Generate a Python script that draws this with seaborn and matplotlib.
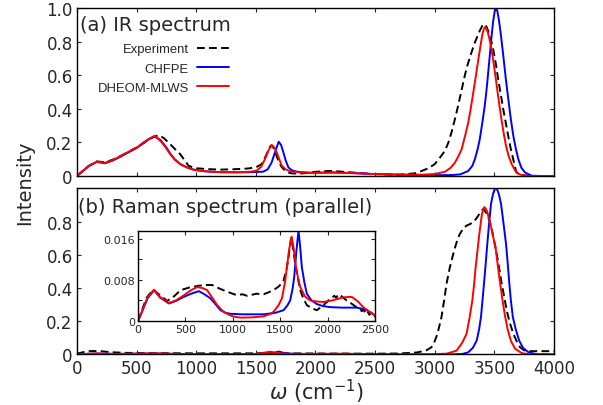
import matplotlib
matplotlib.use("Agg")
import numpy as np
import matplotlib.pyplot as plt
import seaborn as sns

# ---------------- (a) IR spectrum ----------------
ir_exp_w = [0, 50, 100, 167, 237, 300, 363, 430, 502, 560, 614, 660, 692, 730, 781,
            820, 865, 900, 935, 970, 1005, 1100, 1200, 1300, 1400, 1451, 1510, 1549,
            1585, 1614, 1632, 1650, 1669, 1689, 1715, 1745, 1775, 1801, 1850, 1899,
            1950, 2000, 2060, 2121, 2200, 2289, 2400, 2484, 2600, 2707, 2835, 2890,
            2946, 3001, 3030, 3060, 3086, 3115, 3141, 3170, 3197, 3225, 3253, 3275,
            3295, 3315, 3337, 3360, 3378, 3400, 3415, 3433, 3448, 3470, 3490, 3512,
            3532, 3553, 3574, 3595, 3616, 3637, 3658, 3673, 3685, 3705, 3730, 3800, 4000]
ir_exp = [0, 0.03, 0.06, 0.087, 0.082, 0.097, 0.118, 0.143, 0.17, 0.197, 0.222, 0.238,
          0.242, 0.225, 0.19, 0.162, 0.131, 0.097, 0.062, 0.052, 0.046, 0.041, 0.038,
          0.04, 0.043, 0.046, 0.055, 0.071, 0.12, 0.17, 0.183, 0.165, 0.13, 0.091,
          0.055, 0.032, 0.02, 0.016, 0.014, 0.016, 0.02, 0.025, 0.028, 0.03, 0.027,
          0.022, 0.016, 0.012, 0.009, 0.008, 0.016, 0.03, 0.046, 0.071, 0.097, 0.125,
          0.15, 0.2, 0.26, 0.34, 0.42, 0.51, 0.6, 0.66, 0.706, 0.75, 0.795, 0.835,
          0.865, 0.895, 0.905, 0.89, 0.865, 0.815, 0.756, 0.67, 0.577, 0.49, 0.4,
          0.32, 0.24, 0.165, 0.101, 0.055, 0.022, 0.01, 0.006, 0.0, 0.0]

ir_chfpe_w = [0, 50, 100, 167, 237, 300, 363, 430, 502, 550, 600, 650, 700, 750, 781,
              820, 865, 920, 977, 1050, 1116, 1200, 1340, 1450, 1507, 1563, 1600, 1633,
              1665, 1692, 1712, 1731, 1752, 1773, 1800, 1843, 1900, 1954, 2050, 2150,
              2289, 2484, 2707, 2900, 3050, 3150, 3215, 3281, 3315, 3337, 3360, 3378,
              3400, 3420, 3437, 3454, 3475, 3490, 3503, 3514, 3526, 3540, 3555, 3575,
              3596, 3617, 3638, 3659, 3681, 3701, 3726, 3757, 3813, 3900, 4000]
ir_chfpe = [0, 0.03, 0.06, 0.084, 0.076, 0.092, 0.114, 0.14, 0.167, 0.192, 0.217,
            0.236, 0.215, 0.17, 0.135, 0.1, 0.072, 0.052, 0.038, 0.03, 0.026, 0.023,
            0.022, 0.023, 0.024, 0.026, 0.04, 0.081, 0.15, 0.204, 0.185, 0.141, 0.09,
            0.052, 0.035, 0.026, 0.022, 0.02, 0.02, 0.021, 0.018, 0.012, 0.008, 0.006,
            0.005, 0.006, 0.01, 0.03, 0.06, 0.1, 0.16, 0.22, 0.32, 0.42, 0.53, 0.657,
            0.82, 0.92, 0.98, 1.0, 0.98, 0.92, 0.84, 0.716, 0.58, 0.458, 0.34, 0.24,
            0.16, 0.101, 0.05, 0.021, 0.002, 0.0, 0.0]

ir_dheom_w = [0, 50, 100, 167, 237, 300, 363, 430, 502, 550, 600, 656, 712, 750, 781,
              820, 865, 920, 977, 1050, 1116, 1200, 1340, 1450, 1507, 1545, 1577, 1605,
              1633, 1655, 1675, 1697, 1717, 1750, 1787, 1870, 1954, 2050, 2150, 2289,
              2484, 2707, 2900, 3000, 3086, 3135, 3170, 3200, 3226, 3255, 3282, 3304,
              3324, 3346, 3367, 3385, 3400, 3412, 3421, 3432, 3445, 3458, 3475, 3493,
              3514, 3535, 3556, 3577, 3598, 3619, 3646, 3675, 3705, 3731, 3785, 4000]
ir_dheom = [0, 0.03, 0.06, 0.085, 0.079, 0.095, 0.117, 0.143, 0.17, 0.195, 0.22,
            0.24, 0.2, 0.165, 0.131, 0.098, 0.071, 0.052, 0.038, 0.03, 0.026, 0.023,
            0.022, 0.025, 0.032, 0.055, 0.101, 0.15, 0.185, 0.17, 0.141, 0.1, 0.062,
            0.04, 0.028, 0.022, 0.018, 0.02, 0.021, 0.018, 0.012, 0.008, 0.008, 0.012,
            0.025, 0.05, 0.08, 0.12, 0.16, 0.24, 0.32, 0.41, 0.5, 0.6, 0.7, 0.78, 0.845,
            0.875, 0.885, 0.878, 0.855, 0.82, 0.76, 0.677, 0.57, 0.458, 0.355, 0.26,
            0.18, 0.121, 0.07, 0.032, 0.012, 0.006, 0.0, 0.0]

# ---------------- (b) Raman spectrum, low frequency (inset scale) ----------------
ra_exp_lo_w = [0, 40, 90, 161, 220, 309, 380, 449, 540, 624, 700, 782, 860, 940, 1045,
               1100, 1150, 1200, 1250, 1325, 1380, 1430, 1490, 1535, 1565, 1588, 1605,
               1616, 1635, 1658, 1685, 1711, 1745, 1781, 1830, 1886, 1950, 2000, 2026,
               2050, 2070, 2090, 2114, 2140, 2160, 2201, 2250, 2306, 2340, 2360, 2380,
               2400, 2420, 2440, 2460, 2480, 2499]
ra_exp_lo = [0, 0.002, 0.0045, 0.0061, 0.0052, 0.0039, 0.0048, 0.006, 0.0065, 0.0068,
             0.007, 0.007, 0.0063, 0.0057, 0.005, 0.0052, 0.0049, 0.0051, 0.0053, 0.0052,
             0.0056, 0.006, 0.0068, 0.0079, 0.0098, 0.0125, 0.015, 0.0161, 0.0142, 0.0112,
             0.0085, 0.006, 0.0043, 0.0031, 0.0025, 0.0021, 0.003, 0.0038, 0.0044,
             0.0046, 0.0049, 0.0045, 0.0052, 0.0049, 0.0046, 0.004, 0.0034, 0.0027,
             0.0025, 0.0019, 0.0022, 0.0015, 0.0019, 0.0012, 0.0016, 0.0008, 0.0009]

ra_chfpe_lo_w = [0, 50, 100, 169, 230, 326, 400, 484, 560, 642, 700, 764, 820, 870, 920,
                 975, 1100, 1325, 1450, 1535, 1575, 1605, 1630, 1648, 1670, 1693, 1710,
                 1728, 1755, 1781, 1830, 1886, 1950, 2026, 2150, 2306, 2360, 2412, 2460,
                 2499]
ra_chfpe_lo = [0, 0.0022, 0.0044, 0.006, 0.0046, 0.0034, 0.0039, 0.0047, 0.0053,
               0.0058, 0.0052, 0.0044, 0.0032, 0.0021, 0.0016, 0.0014, 0.0013, 0.0013,
               0.0016, 0.0021, 0.003, 0.004, 0.0062, 0.0086, 0.0135, 0.0176, 0.0145,
               0.0105, 0.0075, 0.0053, 0.004, 0.0033, 0.0029, 0.0027, 0.0026, 0.0026,
               0.0024, 0.0021, 0.0016, 0.0011]

ra_dheom_lo_w = [0, 50, 100, 169, 230, 326, 400, 484, 560, 624, 680, 729, 780, 835, 890,
                 940, 1000, 1080, 1200, 1325, 1400, 1430, 1480, 1518, 1550, 1571, 1595,
                 1620, 1643, 1666, 1690, 1711, 1760, 1816, 1880, 1956, 2050, 2166, 2254,
                 2320, 2376, 2440, 2499]
ra_dheom_lo = [0, 0.0022, 0.0045, 0.0061, 0.0047, 0.0035, 0.004, 0.005, 0.006, 0.0066,
               0.0064, 0.006, 0.0046, 0.0031, 0.002, 0.0014, 0.0009, 0.00065, 0.0007,
               0.0009, 0.0014, 0.0018, 0.003, 0.0044, 0.0075, 0.0105, 0.014, 0.0164,
               0.014, 0.0105, 0.0082, 0.0066, 0.0048, 0.004, 0.0038, 0.0037, 0.004,
               0.0046, 0.0047, 0.0038, 0.0027, 0.0018, 0.0011]

# ---------------- (b) Raman spectrum, main panel ----------------
ra_exp_w = [0, 60, 120, 200, 280, 400, 600, 1000, 1500, 1620, 1700, 2000, 2500, 2700,
            2850, 2930, 2972, 3000, 3023, 3057, 3080, 3099, 3127, 3163, 3190, 3211,
            3240, 3267, 3295, 3323, 3345, 3365, 3390, 3408, 3430, 3450, 3470, 3486,
            3505, 3525, 3545, 3562, 3585, 3604, 3630, 3660, 3690, 3716, 3750, 3800,
            3900, 4000]
ra_exp = [0.005, 0.015, 0.021, 0.02, 0.014, 0.01, 0.008, 0.007, 0.007, 0.011, 0.007,
          0.006, 0.005, 0.006, 0.012, 0.025, 0.043, 0.08, 0.124, 0.226, 0.33, 0.425,
          0.525, 0.626, 0.69, 0.726, 0.76, 0.776, 0.785, 0.796, 0.815, 0.836, 0.865,
          0.876, 0.855, 0.826, 0.78, 0.726, 0.66, 0.585, 0.5, 0.425, 0.34, 0.264,
          0.19, 0.124, 0.075, 0.043, 0.025, 0.02, 0.02, 0.02]

ra_chfpe_hi_w = [2700, 3100, 3230, 3281, 3320, 3352, 3372, 3388, 3400, 3413, 3425, 3441,
                 3455, 3472, 3490, 3503, 3514, 3526, 3540, 3556, 3575, 3598, 3612, 3623,
                 3638, 3655, 3680, 3708, 3740, 3787, 3850, 4000]
ra_chfpe_hi = [0.0005, 0.0, 0.003, 0.013, 0.04, 0.084, 0.15, 0.226, 0.32, 0.425, 0.525,
               0.666, 0.78, 0.907, 0.97, 0.995, 1.0, 0.99, 0.96, 0.907, 0.8, 0.666,
               0.55, 0.45, 0.33, 0.226, 0.15, 0.084, 0.04, 0.013, 0.002, 0.0]

ra_dheom_hi_w = [2700, 2900, 3100, 3183, 3230, 3267, 3292, 3315, 3330, 3343, 3358, 3374,
                 3395, 3408, 3416, 3426, 3440, 3456, 3475, 3493, 3511, 3530, 3550, 3570,
                 3590, 3612, 3640, 3674, 3730, 3800, 4000]
ra_dheom_hi = [0.0005, 0.0, 0.005, 0.023, 0.07, 0.124, 0.22, 0.324, 0.42, 0.525, 0.62,
               0.726, 0.84, 0.875, 0.887, 0.88, 0.86, 0.815, 0.76, 0.7, 0.64, 0.53,
               0.42, 0.32, 0.23, 0.15, 0.08, 0.035, 0.008, 0.0, 0.0]

labels = ["Experiment", "CHFPE", "DHEOM-MLWS"]
colors = ["black", "#0000ff", "#ff0000"]
styles = [(0, (4, 2.2)), "-", "-"]

sns.set_style("ticks")
plt.rcParams["font.family"] = ["DejaVu Sans"]
plt.rcParams["xtick.direction"] = "in"
plt.rcParams["ytick.direction"] = "in"
plt.rcParams["xtick.top"] = True
plt.rcParams["ytick.right"] = True
plt.rcParams["axes.linewidth"] = 1.0
plt.rcParams["axes.edgecolor"] = "black"

fig = plt.figure(figsize=(6.03, 4.06), dpi=100)
ax_ir = fig.add_axes([0.1275, 0.564, 0.7912, 0.4138])
ax_ra = fig.add_axes([0.1275, 0.1244, 0.7912, 0.4091])
ax_in = fig.add_axes([0.2289, 0.2069, 0.393, 0.2217])


def draw(ax, series, lw=1.4, with_label=False):
    for (w, v), lab, col, ls in zip(series, labels, colors, styles):
        sns.lineplot(x=w, y=v, ax=ax, color=col, linestyle=ls, linewidth=lw,
                     label=lab if with_label else None, errorbar=None, legend=False)


draw(ax_ir, [(ir_exp_w, ir_exp), (ir_chfpe_w, ir_chfpe), (ir_dheom_w, ir_dheom)],
     with_label=True)

ra_chfpe_w = ra_chfpe_lo_w + ra_chfpe_hi_w
ra_chfpe = ra_chfpe_lo + ra_chfpe_hi
ra_dheom_w = ra_dheom_lo_w + ra_dheom_hi_w
ra_dheom = ra_dheom_lo + ra_dheom_hi
draw(ax_ra, [(ra_exp_w, ra_exp), (ra_chfpe_w, ra_chfpe), (ra_dheom_w, ra_dheom)])
draw(ax_in, [(ra_exp_lo_w, ra_exp_lo), (ra_chfpe_lo_w, ra_chfpe_lo),
             (ra_dheom_lo_w, ra_dheom_lo)], lw=1.4)

xt = np.arange(0, 4001, 500)
for ax in (ax_ir, ax_ra):
    ax.set_xlim(0, 4000)
    ax.set_ylim(0, 1.0)
    ax.set_xticks(xt)
    ax.tick_params(length=3, width=0.8, labelsize=12, pad=3)
    ax.set_xlabel("")
    ax.set_ylabel("")

ax_ir.set_xticklabels([])
ax_ir.set_yticks([0, 0.2, 0.4, 0.6, 0.8, 1.0])
ax_ir.set_yticklabels(["0", "0.2", "0.4", "0.6", "0.8", "1.0"])
ax_ra.set_xticklabels([str(t) for t in xt])
ax_ra.set_yticks([0, 0.2, 0.4, 0.6, 0.8])
ax_ra.set_yticklabels(["0", "0.2", "0.4", "0.6", "0.8"])

ax_in.set_xlim(0, 2500)
ax_in.set_ylim(0, 0.0175)
ax_in.set_xticks([0, 500, 1000, 1500, 2000, 2500])
ax_in.set_yticks([0, 0.008, 0.016])
ax_in.set_yticklabels(["0", "0.008", "0.016"])
ax_in.set_yticks([0.004, 0.012], minor=True)
ax_in.tick_params(which="both", length=3, width=0.8, labelsize=8, pad=2)
ax_in.set_xlabel("")
ax_in.set_ylabel("")

ax_ir.text(0.006, 0.871, "(a) IR spectrum", transform=ax_ir.transAxes,
           fontsize=14, va="baseline", ha="left")
ax_ra.text(0.003, 0.857, "(b) Raman spectrum (parallel)", transform=ax_ra.transAxes,
           fontsize=14, va="baseline", ha="left")

ax_ir.legend(loc="upper right", bbox_to_anchor=(0.332, 0.83), frameon=False,
             markerfirst=False, borderpad=0, handlelength=2.45, handletextpad=0.6,
             labelspacing=0.55, prop={"family": "Liberation Sans", "size": 9.4})

fig.text(0.041, 0.549, "Intensity", rotation=90, fontsize=14, ha="center", va="center")
fig.text(0.524, 0.034, r"$\omega$ (cm$^{-1}$)", fontsize=15, ha="center", va="center")

fig.savefig("out.png", dpi=100)
